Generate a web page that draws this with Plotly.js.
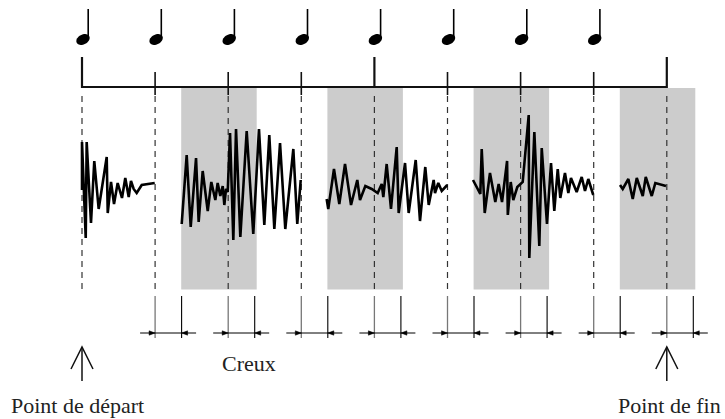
<!DOCTYPE html>
<html>
<head>
<meta charset="utf-8">
<script src="https://cdn.plot.ly/plotly-3.0.1.min.js"></script>
<style>
html,body{margin:0;padding:0;background:#fff;}
#chart{width:725px;height:419px;}
</style>
</head>
<body>
<div id="chart"></div>
<script>
// ---- data (time in beats, amplitude in arbitrary units) ----
const beats = [0, 1, 2, 3, 4, 5, 6, 7, 8];
const noteBeats = [0, 1, 2, 3, 4, 5, 6, 7];
const majorBeats = [0, 4, 8];
const shadeBeats = [2, 4, 6, 8];
const creuxBeats = [1, 2, 3, 4, 5, 6, 7, 8];
const arrowBeats = [0, 8];
const labelStart = "Point de départ";
const labelCreux = "Creux";
const labelEnd = "Point de fin";

const w1t = [0.000,0.000,0.051,0.064,0.123,0.168,0.228,0.338,0.352,0.397,0.438,0.488,0.547,0.592,0.639,0.670,0.707,0.748,0.817,0.995];
const w1a = [-5,43,-53,43,-38,24,-24,28,-28,3,-19,2,-13,7,-12,4,-4,-8,0,2];

const w2t = [1.364,1.432,1.487,1.560,1.596,1.651,1.720,1.769,1.824,1.856,1.892,1.925,1.947,1.970,1.993,2.025,2.070,2.107,2.166,2.253,2.343,2.421,2.494,2.562,2.631,2.709,2.781,2.891,2.945,2.992];
const w2a = [-39,30,-42,27,-37,14,-26,3,-15,2,-11,-1,-20,-4,-7,52,-55,56,-52,54,-49,56,-40,50,-44,42,-44,36,-39,5];

const w3t = [3.347,3.369,3.447,3.520,3.598,3.680,3.766,3.803,3.876,3.963,4.045,4.100,4.122,4.168,4.227,4.305,4.332,4.419,4.469,4.565,4.624,4.696,4.743,4.811,4.829,4.874,4.921,4.997];
const w3a = [-14,-24,16,-19,21,-20,5,-15,-1,-4,-8,1,-12,21,-24,38,-28,22,-28,25,-36,18,-20,5,-8,2,-6,0];

const w4t = [5.349,5.449,5.468,5.509,5.581,5.654,5.700,5.746,5.815,5.825,5.865,5.900,5.955,6.029,6.111,6.119,6.188,6.256,6.289,6.361,6.416,6.461,6.508,6.543,6.607,6.653,6.689,6.767,6.836,6.881,6.926,6.994];
const w4a = [5,-9,36,-28,12,-17,1,-17,24,-30,3,-15,-2,3,70,-73,53,-61,37,-39,22,-26,16,-13,12,-8,7,-7,8,-6,6,-10];

const w5t = [7.360,7.397,7.474,7.534,7.589,7.671,7.712,7.794,7.843,7.921,7.989];
const w5a = [0,-4,6,-14,7,-11,8,-11,2,0,-1];

// ---- geometry helpers ----
const PXB = 73.1;          // pixels per beat
const X0 = 82;             // pixel of beat 0
const YC = 185;            // pixel of zero amplitude
const W = 725, H = 419;
const dx = p => p / PXB;   // pixel offset -> beat offset
const Y = py => YC - py;   // pixel y -> data y

const shapes = [];
const line = (x0, y0, x1, y1, color, width, extra) =>
  Object.assign({type:'line', xref:'x', yref:'y', x0, x1, y0:Y(y0), y1:Y(y1),
    line:{color, width}}, extra || {});
const pathOf = pts => 'M ' + pts.map(p => p[0] + ',' + Y(p[1])).join(' L ');

// shaded regions
shadeBeats.forEach(b => shapes.push({type:'rect', xref:'x', yref:'y', layer:'below',
  x0:b - dx(47), x1:b + dx(28.5), y0:Y(88), y1:Y(289.5),
  fillcolor:'#cccccc', line:{width:0}}));

// dashed beat lines
beats.forEach(b => shapes.push(line(b, 96, b, 291, '#333', 1.2,
  {layer:'below', line:{color:'#333', width:1.2, dash:'6px,5px'}})));

// timeline
shapes.push(line(beats[0], 87, beats[beats.length-1], 87, '#111', 2));
beats.forEach(b => {
  if (majorBeats.includes(b)) shapes.push(line(b, 57, b, 88, '#111', 2.2));
  else shapes.push(line(b, 72, b, 95, '#111', 1.6));
});

// quarter notes
noteBeats.forEach(b => {
  const cx = 83, cy = 39.5, a = 7.1, bb = 4.9, th = -28 * Math.PI / 180;
  const pts = [];
  for (let i = 0; i < 36; i++) {
    const t = i / 36 * 2 * Math.PI;
    const px = cx + a*Math.cos(t)*Math.cos(th) - bb*Math.sin(t)*Math.sin(th);
    const py = cy + a*Math.cos(t)*Math.sin(th) + bb*Math.sin(t)*Math.cos(th);
    pts.push([b + dx(px - X0), py]);
  }
  shapes.push({type:'path', xref:'x', yref:'y', path: pathOf(pts) + ' Z',
    fillcolor:'#000', line:{width:0}});
  const sx = b + dx(6.2);
  shapes.push(line(sx, 9, sx, 38, '#000', 1.6));
});

// "Creux" brackets
creuxBeats.forEach(b => {
  const L = b, R = b + dx(26.5);
  shapes.push(line(L, 296, L, 338, '#777', 1.3));
  shapes.push(line(R, 296, R, 338, '#000', 1.1));
  shapes.push(line(b - dx(15), 333, b + dx(41), 333, '#000', 1));
  shapes.push({type:'path', xref:'x', yref:'y', fillcolor:'#000', line:{color:'#000', width:0.5},
    path: pathOf([[L - dx(6), 330.8], [L, 333], [L - dx(6), 335.2]]) + ' Z'});
  shapes.push({type:'path', xref:'x', yref:'y', fillcolor:'#000', line:{color:'#000', width:0.5},
    path: pathOf([[R + dx(6), 330.8], [R, 333], [R + dx(6), 335.2]]) + ' Z'});
});

// up arrows
arrowBeats.forEach(b => {
  shapes.push(line(b, 347, b, 381, '#111', 1.5));
  shapes.push({type:'path', xref:'x', yref:'y', line:{color:'#111', width:1.5},
    path: pathOf([[b - dx(11), 369], [b, 347], [b + dx(11), 369]])});
});

// waveform traces
const waves = [[w1t,w1a],[w2t,w2a],[w3t,w3a],[w4t,w4a],[w5t,w5a]];
const traces = waves.map(([t, a]) => ({
  type:'scatter', mode:'lines', x:t, y:a, hoverinfo:'skip',
  line:{color:'#000', width:2.6, shape:'linear'}
}));

const font = {family:'"Liberation Serif", "Times New Roman", serif', size:22, color:'#222'};
const annotations = [
  {text:labelStart, x:arrowBeats[0] + dx(-4.5), y:Y(405), xref:'x', yref:'y', showarrow:false, font, xanchor:'center', yanchor:'middle'},
  {text:labelCreux, x:creuxBeats[1] + dx(21), y:Y(363), xref:'x', yref:'y', showarrow:false, font, xanchor:'center', yanchor:'middle'},
  {text:labelEnd, x:arrowBeats[1] + dx(3), y:Y(405), xref:'x', yref:'y', showarrow:false, font, xanchor:'center', yanchor:'middle'}
];

const layout = {
  width: W, height: H,
  margin:{l:0, r:0, t:0, b:0, pad:0},
  paper_bgcolor:'#fff', plot_bgcolor:'#fff',
  showlegend:false,
  xaxis:{range:[-X0/PXB, (W - X0)/PXB], visible:false, fixedrange:true},
  yaxis:{range:[YC - H, YC], visible:false, fixedrange:true},
  shapes, annotations
};
Plotly.newPlot('chart', traces, layout, {staticPlot:true, displayModeBar:false});
</script>
</body>
</html>
